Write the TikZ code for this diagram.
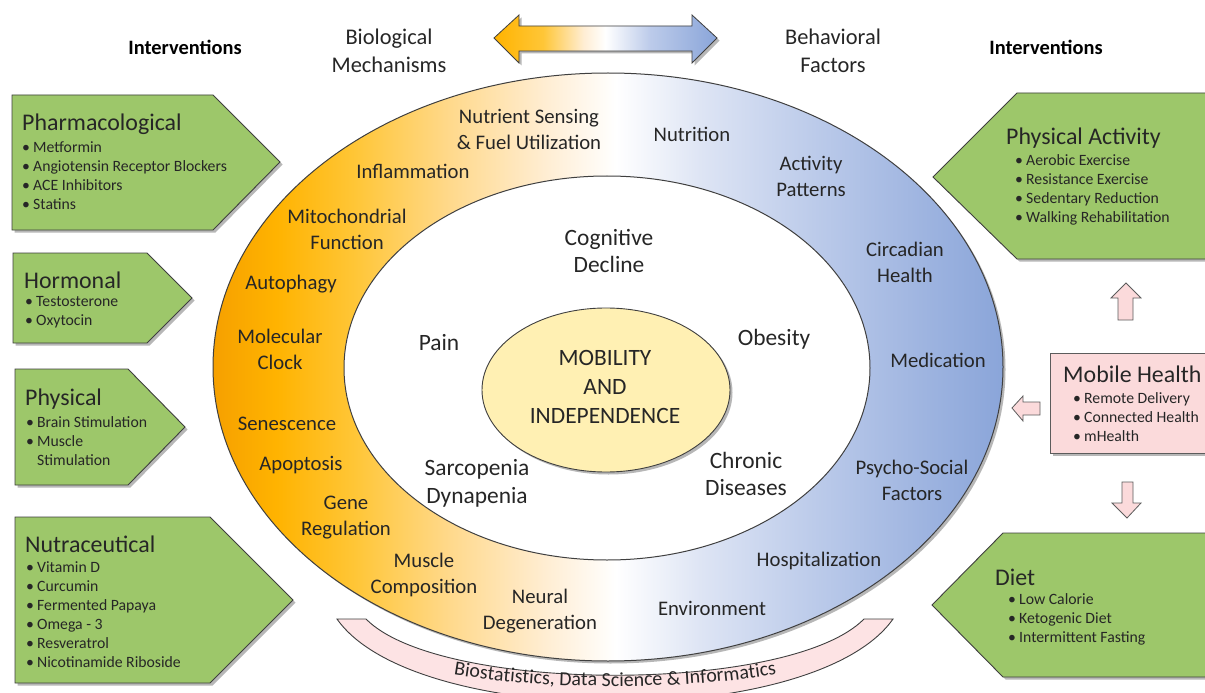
\documentclass[tikz,border=0pt]{standalone}
\usepackage{fontspec}
\setmainfont{Carlito}
\usetikzlibrary{shadows,decorations.text,positioning}

\definecolor{inkgray}{HTML}{262626}
\definecolor{edgegray}{HTML}{3F3F3F}
\definecolor{leafgreen}{HTML}{9DC76A}
\definecolor{blushpink}{HTML}{FBDADB}
\definecolor{bandpink}{HTML}{FDE3E4}
\definecolor{coreyellow}{HTML}{FFF0B3}
\definecolor{bioA}{HTML}{F6A000}
\definecolor{bioB}{HTML}{FFB300}
\definecolor{bioC}{HTML}{FFC637}
\definecolor{bioD}{HTML}{FFD98C}
\definecolor{bioE}{HTML}{FFEDD2}
\definecolor{behA}{HTML}{DDE4F4}
\definecolor{behB}{HTML}{BCCBEA}
\definecolor{behC}{HTML}{9EB4E0}
\definecolor{behD}{HTML}{8AA5D9}

\pgfdeclarehorizontalshading{ringshade}{100bp}{color(0bp)=(bioA); color(25bp)=(bioA); color(29bp)=(bioB); color(34bp)=(bioC); color(40bp)=(bioD); color(46bp)=(bioE); color(50.5bp)=(white); color(56bp)=(behA); color(63bp)=(behB); color(70bp)=(behC); color(75bp)=(behD); color(100bp)=(behD)}
\pgfdeclarehorizontalshading{linkshade}{100bp}{color(0bp)=(bioB); color(25bp)=(bioB); color(36bp)=(bioC); color(45bp)=(bioE); color(50bp)=(white); color(60bp)=(behB); color(75bp)=(behD); color(100bp)=(behD)}

\tikzset{
	softshadow/.style={
		drop shadow={shadow xshift=2.5bp,shadow yshift=-2.5bp,opacity=.4,fill=black!70},
	},
	greenbox/.style={
		fill=leafgreen,
		draw=edgegray,
		line width=.9bp,
		softshadow,
	},
	pinkshape/.style={
		fill=blushpink,
		draw=edgegray!85,
		line width=.8bp,
	},
	boxtitle/.style={
		anchor=west,
		inner sep=0,
		text=inkgray,
		font=\fontsize{24}{28}\selectfont,
	},
	bulletlist/.style={
		anchor=west,
		align=left,
		inner sep=0,
		text=inkgray,
		font=\fontsize{15.8}{19}\selectfont,
	},
	ringlabel/.style={
		align=center,
		inner sep=0,
		text=inkgray,
		font=\fontsize{20.8}{26}\selectfont,
	},
	corelabel/.style={
		align=center,
		inner sep=0,
		text=inkgray,
		font=\fontsize{23.5}{28}\selectfont,
	},
	headlabel/.style={
		align=center,
		inner sep=0,
		text=inkgray,
		font=\fontsize{22.5}{28}\selectfont,
	},
	sidehead/.style={
		inner sep=0,
		text=black,
		font=\bfseries\fontsize{20.5}{22}\selectfont,
	},
}
\newcommand{\bulletline}[1]{\makebox[11bp][l]{\textbullet}#1}

\begin{document}
\begin{tikzpicture}[x=1bp,y=-1bp]
	\useasboundingbox (0,0) rectangle (1205,693);
	\fill[white] (0,0) rectangle (1205,693);

	% rings
	\path[shade,shading=ringshade,draw=edgegray,line width=1bp,softshadow] (608,367) ellipse [x radius=395,y radius=294];
	\path[fill=white,draw=edgegray,line width=1bp] (607,368) ellipse [x radius=263,y radius=192];
	\path[fill=coreyellow,draw=edgegray,line width=.9bp,softshadow] (606,390) ellipse [x radius=124,y radius=82];

	% biostatistics band
	\path[fill=bandpink,draw=edgegray,line width=.9bp] (337,619) -- (366,619) .. controls (440,694) and (790,694) .. (864,619) -- (893,619) .. controls (815,730) and (415,730) .. (337,619) -- cycle;
	\path[decorate,decoration={text along path,text align=center,text color=inkgray,
		text={|\fontsize{20}{22}\selectfont|Biostatistics, Data Science {\&} Informatics}}]
		(388,657) .. controls (478,696) and (752,696) .. (842,657);

	% header
	\path[shade,shading=linkshade,draw=edgegray,line width=.8bp,softshadow] (494,38) -- (519,15) -- (519,26) -- (692,26) -- (692,15) -- (717,38) -- (692,63) -- (692,51) -- (519,51) -- (519,63) -- cycle;
	\node[sidehead] (leftHead) at (185,47) {Interventions};
	\node[sidehead] (rightHead) at (1046,47) {Interventions};
	\node[headlabel] (bioHead) at (389,51) {Biological\\Mechanisms};
	\node[headlabel] (behHead) at (833,51) {Behavioral\\Factors};

	% biological mechanisms
	\node[ringlabel] (nutrient) at (529,129) {Nutrient Sensing\\\& Fuel Utilization};
	\node[ringlabel] (inflam) at (413,171) {Inflammation};
	\node[ringlabel] (mito) at (347,229) {Mitochondrial\\Function};
	\node[ringlabel] (autoph) at (291,284) {Autophagy};
	\node[ringlabel] (clock) at (280,349) {Molecular\\Clock};
	\node[ringlabel] (senes) at (287,424) {Senescence};
	\node[ringlabel] (apopt) at (301,465) {Apoptosis};
	\node[ringlabel] (gene) at (346,518) {Gene\\Regulation};
	\node[ringlabel] (muscle) at (424,575) {Muscle\\Composition};
	\node[ringlabel] (neural) at (540,611) {Neural\\Degeneration};

	% behavioral factors
	\node[ringlabel] (nutrition) at (692,134) {Nutrition};
	\node[ringlabel] (activity) at (811,176) {Activity\\Patterns};
	\node[ringlabel] (circadian) at (905,262) {Circadian\\Health};
	\node[ringlabel] (medic) at (938,360) {Medication};
	\node[ringlabel] (psycho) at (912,480) {Psycho-Social\\Factors};
	\node[ringlabel] (hospital) at (819,561) {Hospitalization};
	\node[ringlabel] (environ) at (712,608) {Environment};

	% conditions
	\node[corelabel] (cognitive) at (609,251) {Cognitive\\Decline};
	\node[corelabel] (pain) at (439,343) {Pain};
	\node[corelabel] (obesity) at (774,339) {Obesity};
	\node[corelabel] (sarco) at (477,483) {Sarcopenia\\Dynapenia};
	\node[corelabel] (chronic) at (746,474) {Chronic\\Diseases};
	\node[corelabel,font=\fontsize{23.5}{29}\selectfont] (mobility) at (605,387) {MOBILITY\\AND\\INDEPENDENCE};

	% left interventions
	\path[greenbox] (12,95) -- (213,95) -- (280,162) -- (213,230) -- (12,230) -- cycle;
	\node[boxtitle] (pharmaTitle) at (22,124) {Pharmacological};
	\node[bulletlist] (pharmaList) at (22,176) {\bulletline{Metformin}\\\bulletline{Angiotensin Receptor Blockers}\\\bulletline{ACE Inhibitors}\\\bulletline{Statins}};

	\path[greenbox] (13,253) -- (147,253) -- (192,298) -- (147,343) -- (13,343) -- cycle;
	\node[boxtitle] (hormoneTitle) at (24,280) {Hormonal};
	\node[bulletlist] (hormoneList) at (25,312.5) {\bulletline{Testosterone}\\\bulletline{Oxytocin}};

	\path[greenbox] (15,369) -- (128,369) -- (185,427) -- (128,485) -- (15,485) -- cycle;
	\node[boxtitle] (physTitle) at (25,399) {Physical};
	\node[bulletlist] (physList) at (26,441) {\bulletline{Brain Stimulation}\\\bulletline{Muscle}\\\makebox[11bp]{}Stimulation};

	\path[greenbox] (15,517) -- (210,517) -- (293,600) -- (210,683) -- (15,683) -- cycle;
	\node[boxtitle] (nutraTitle) at (25,544) {Nutraceutical};
	\node[bulletlist] (nutraList) at (26,614.5) {\bulletline{Vitamin D}\\\bulletline{Curcumin}\\\bulletline{Fermented Papaya}\\\bulletline{Omega - 3}\\\bulletline{Resveratrol}\\\bulletline{Nicotinamide Riboside}};

	% right interventions
	\path[greenbox] (1215,93) -- (1017,93) -- (933,177) -- (1017,259) -- (1215,259) -- cycle;
	\node[boxtitle] (activeTitle) at (1006,138) {Physical Activity};
	\node[bulletlist] (activeList) at (1015,190) {\bulletline{Aerobic Exercise}\\\bulletline{Resistance Exercise}\\\bulletline{Sedentary Reduction}\\\bulletline{Walking Rehabilitation}};

	\path[pinkshape,softshadow] (1050,353) rectangle (1215,453);
	\node[boxtitle] (mobileTitle) at (1063,374) {Mobile Health};
	\node[bulletlist] (mobileList) at (1073,417) {\bulletline{Remote Delivery}\\\bulletline{Connected Health}\\\bulletline{mHealth}};

	\path[greenbox] (1215,533) -- (1003,533) -- (932,605) -- (1003,677) -- (1215,677) -- cycle;
	\node[boxtitle] (dietTitle) at (995,577) {Diet};
	\node[bulletlist] (dietList) at (1008,619.5) {\bulletline{Low Calorie}\\\bulletline{Ketogenic Diet}\\\bulletline{Intermittent Fasting}};

	% mobile health arrows
	\path[pinkshape] (1126,283) -- (1141,298) -- (1133,298) -- (1133,320) -- (1118,320) -- (1118,298) -- (1111,298) -- cycle;
	\path[pinkshape] (1012,408) -- (1023,396) -- (1023,402) -- (1040,402) -- (1040,415) -- (1023,415) -- (1023,421) -- cycle;
	\path[pinkshape] (1122,482) -- (1133,482) -- (1133,503) -- (1141,503) -- (1127,518) -- (1112,503) -- (1122,503) -- cycle;
\end{tikzpicture}
\end{document}
